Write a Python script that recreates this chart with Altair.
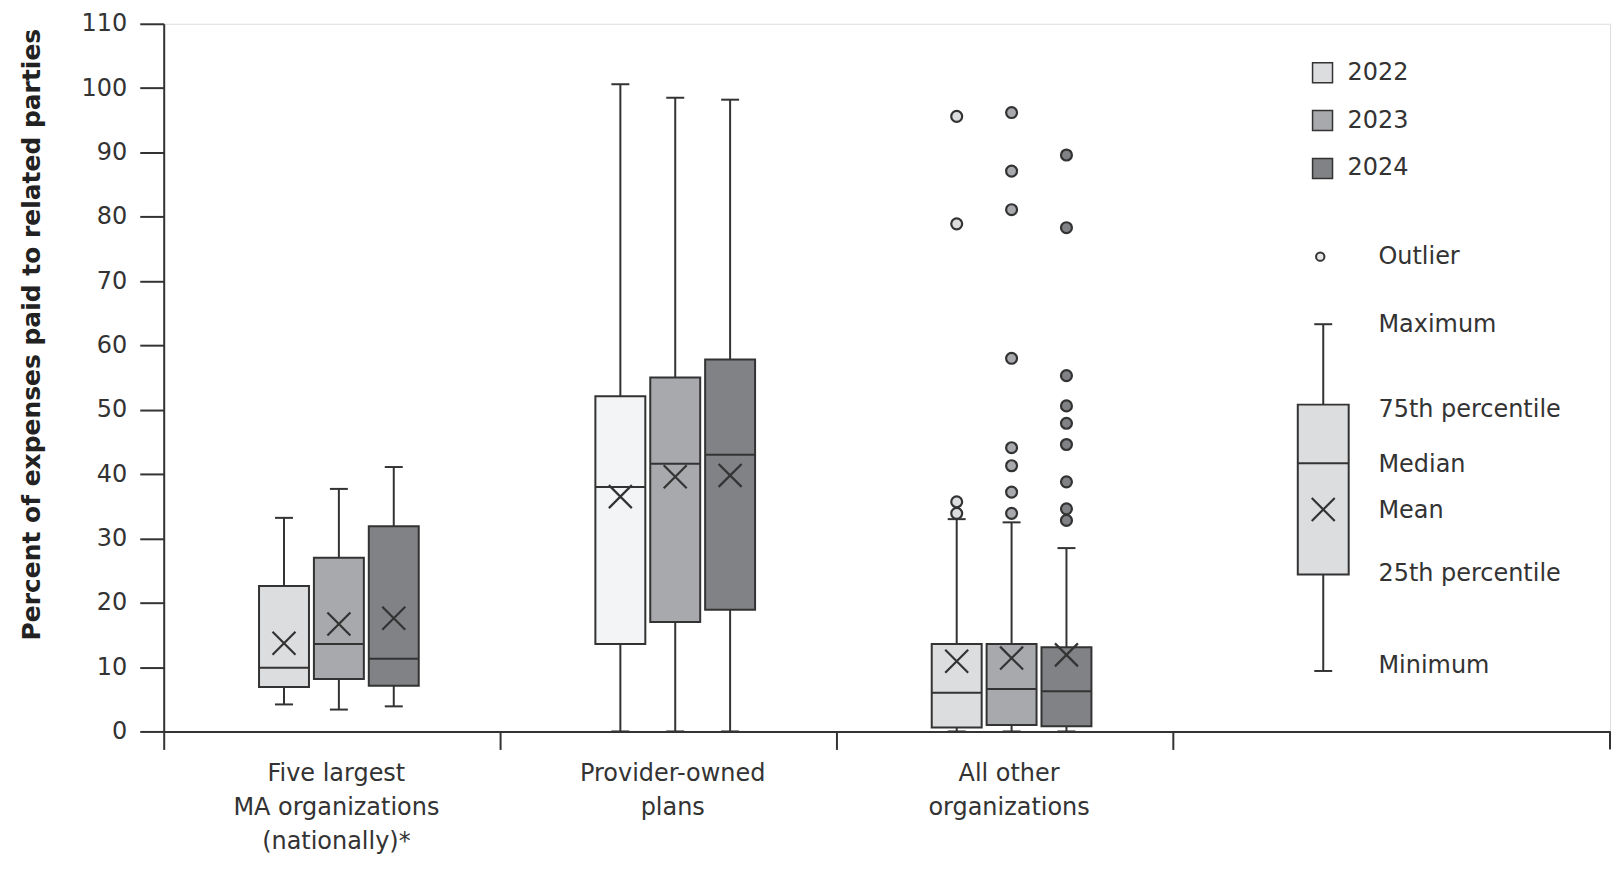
import altair as alt
import pandas as pd

# ---------------- data ----------------
categories = ["Five largest|MA organizations|(nationally)*", "Provider-owned|plans", "All other|organizations"]
years = ["2022", "2023", "2024"]

# one entry per (category, year) in order: cat1 2022..2024, cat2 ..., cat3 ...
minimum = [4.2, 3.4, 3.9, 0.0, 0.0, 0.0, 0.0, 0.0, 0.0]
q1 = [6.9, 8.15, 7.1, 13.6, 17.0, 18.9, 0.6, 1.0, 0.8]
median = [9.9, 13.6, 11.3, 38.0, 41.6, 43.0, 6.0, 6.6, 6.25]
q3 = [22.6, 27.0, 31.9, 52.1, 55.0, 57.8, 13.6, 13.6, 13.1]
maximum = [33.2, 37.7, 41.1, 100.6, 98.5, 98.2, 33.0, 32.5, 28.5]
mean = [13.7, 16.7, 17.6, 36.5, 39.6, 39.8, 10.9, 11.4, 11.9]

outliers_2022 = [95.6, 78.9, 35.7, 33.9]
outliers_2023 = [96.2, 87.1, 81.1, 58.0, 44.1, 41.3, 37.2, 33.9]
outliers_2024 = [89.6, 78.3, 55.3, 50.6, 47.9, 44.6, 38.8, 34.6, 32.8]

# explanatory key (sample box drawn on the value axis)
key_labels = ["Outlier", "Maximum", "75th percentile", "Median", "Mean", "25th percentile", "Minimum"]
key_values = [73.8, 63.3, 50.8, 41.7, 34.5, 24.4, 9.4]
key_label_values = [73.8, 63.2, 49.9, 41.4, 34.2, 24.4, 10.2]

year_colors = ["#dcdddf", "#a7a9ac", "#808285"]
light_2022 = "#f3f4f6"
ink = "#333333"
FONT = "DejaVu Sans"
YTITLE = "Percent of expenses paid to related parties"

# ---------------- tables ----------------
box_df = pd.DataFrame({
    "category": [c for c in categories for _ in years],
    "year": years * len(categories),
    "minimum": minimum, "q1": q1, "median": median, "q3": q3,
    "maximum": maximum, "mean": mean,
})
out_df = pd.DataFrame({
    "category": [categories[2]] * (len(outliers_2022) + len(outliers_2023) + len(outliers_2024)),
    "year": ["2022"] * len(outliers_2022) + ["2023"] * len(outliers_2023) + ["2024"] * len(outliers_2024),
    "value": outliers_2022 + outliers_2023 + outliers_2024,
})
key_df = pd.DataFrame([dict(zip(["out", "max", "q3", "med", "mean", "q1", "min"], key_values))])
key_text_df = pd.DataFrame({"label": key_labels, "value": key_label_values})

# ---------------- scales / axes ----------------
PLOT_W, PLOT_H = 1449, 709

x_scale = alt.Scale(domain=categories, paddingInner=0, paddingOuter=0.65, align=0)
x_axis = alt.Axis(
    labelExpr="split(datum.label, '|')", labelAngle=0, labelFont=FONT, labelFontSize=24,
    labelColor=ink, labelLineHeight=34, labelPadding=12, labelOffset=4, labelLimit=600,
    tickBand="extent", tickSize=18, tickWidth=2, tickColor=ink,
    domainColor=ink, domainWidth=2, title=None,
)
off_scale = alt.Scale(domain=years, paddingInner=0.09, paddingOuter=0, range=[95.5, 255.5])

y_scale = alt.Scale(domain=[0, 110], nice=False, zero=True)
y_axis = alt.Axis(
    values=list(range(0, 111, 10)), grid=False, labelFont=FONT, labelFontSize=24,
    labelColor=ink, labelPadding=13, tickSize=24, tickWidth=2, tickColor=ink,
    domainColor=ink, domainWidth=2, titleFont=FONT, titleFontSize=25,
    titleFontWeight="bold", titleColor="#222222", titlePadding=37, titleY=311,
)


def Y(field):
    return alt.Y(f"{field}:Q", scale=y_scale, axis=y_axis, title=YTITLE)


X = alt.X("category:N", scale=x_scale, axis=x_axis, sort=categories, title=None)
XO = alt.XOffset("year:N", scale=off_scale, sort=years)
fill_scale = alt.Scale(domain=years, range=year_colors)
fill_legend = alt.Legend(
    orient="none", legendX=1149, legendY=37, title=None, symbolType="square",
    symbolSize=400, symbolStrokeColor=ink, symbolStrokeWidth=1.5, labelFont=FONT,
    labelFontSize=24, labelColor=ink, labelOffset=13, rowPadding=22, padding=0,
)
FILL = alt.Fill("year:N", scale=fill_scale, legend=fill_legend, sort=years)

base = alt.Chart(box_df).encode(x=X, xOffset=XO)

whisker = base.mark_rule(color=ink, strokeWidth=2).encode(y=Y("minimum"), y2="maximum:Q")
cap_hi = base.mark_tick(color=ink, size=18, thickness=2, opacity=1).encode(y=Y("maximum"))
cap_lo = base.mark_tick(color=ink, size=18, thickness=2, opacity=1).encode(y=Y("minimum"))
box = base.mark_bar(stroke=ink, strokeWidth=2, opacity=1).encode(
    y=Y("q1"), y2="q3:Q",
    fill=alt.condition(
        f"datum.category === '{categories[1]}' && datum.year === '2022'",
        alt.value(light_2022), FILL,
    ),
)
med = base.mark_tick(color=ink, size=50, thickness=2, opacity=1).encode(y=Y("median"))
XSHAPE = "M-1,-1L1,1M-1,1L1,-1"
mean_pt = base.mark_point(shape=XSHAPE, filled=False, size=530, strokeWidth=2.2,
                          color=ink, opacity=1).encode(y=Y("mean"))

outl = alt.Chart(out_df).mark_point(
    shape="circle", filled=True, size=120, stroke=ink, strokeWidth=2.2, opacity=1
).encode(x=X, xOffset=XO, y=Y("value"), fill=FILL)

# ---------------- explanatory key ----------------
KX = 1161.7
kb = alt.Chart(key_df)
k_rule = kb.mark_rule(color=ink, strokeWidth=2).encode(x=alt.value(KX), y=Y("min"), y2="max:Q")
k_caps = [kb.mark_rule(color=ink, strokeWidth=2).encode(
    x=alt.value(KX - 9), x2=alt.value(KX + 9), y=Y(f)) for f in ["max", "min"]]
k_box = kb.mark_bar(fill=year_colors[0], stroke=ink, strokeWidth=2).encode(
    x=alt.value(KX - 25.5), x2=alt.value(KX + 25.5), y=Y("q1"), y2="q3:Q")
k_med = kb.mark_rule(color=ink, strokeWidth=2).encode(
    x=alt.value(KX - 25.5), x2=alt.value(KX + 25.5), y=Y("med"))
k_mean = kb.mark_point(shape=XSHAPE, filled=False, size=530, strokeWidth=2.2,
                       color=ink, opacity=1).encode(x=alt.value(KX), y=Y("mean"))
k_out = kb.mark_point(shape="circle", filled=True, size=70, fill="#e8e8e8", stroke=ink,
                      strokeWidth=2, opacity=1).encode(x=alt.value(KX - 3), y=Y("out"))
k_text = alt.Chart(key_text_df).mark_text(
    align="left", baseline="middle", font=FONT, fontSize=24, color=ink
).encode(x=alt.value(1217), y=Y("value"), text="label:N")

corner_tick = alt.Chart(key_df).mark_rule(color=ink, strokeWidth=2).encode(
    x=alt.value(PLOT_W), y=alt.value(PLOT_H), y2=alt.value(PLOT_H + 18))

chart = alt.layer(
    whisker, cap_hi, cap_lo, box, med, mean_pt, outl,
    k_rule, *k_caps, k_box, k_med, k_mean, k_out, k_text, corner_tick,
).properties(
    width=PLOT_W, height=PLOT_H,
    autosize=alt.AutoSizeParams(type="none"),
    padding={"left": 156, "top": 15, "right": 4, "bottom": 128},
).configure_view(
    stroke="#444444", strokeWidth=2
).configure(font=FONT)

chart.save("out.html", embed_options={"renderer": "svg", "actions": False})
